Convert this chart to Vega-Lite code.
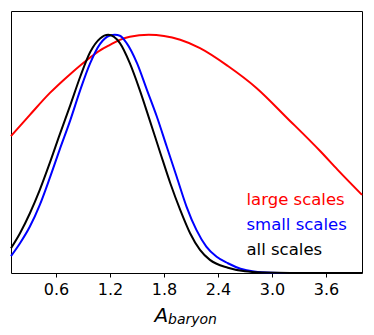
{
  "$schema": "https://vega.github.io/schema/vega-lite/v6.json",
  "width": 351,
  "height": 262,
  "padding": {"left": 7, "top": 11, "right": 12, "bottom": 5},
  "autosize": {"type": "pad"},
  "background": "white",
  "config": {
    "view": {"stroke": "black", "strokeWidth": 1},
    "font": "DejaVu Sans"
  },
  "title": {
    "text": "baryon",
    "orient": "bottom",
    "anchor": "start",
    "frame": "group",
    "dx": 157,
    "offset": -13,
    "fontSize": 14,
    "fontStyle": "italic",
    "fontWeight": "normal",
    "font": "DejaVu Sans",
    "color": "black"
  },
  "data": {
    "values": [
      {"s": "large scales", "x": 0.1, "y": 0.575},
      {"s": "large scales", "x": 0.31, "y": 0.664},
      {"s": "large scales", "x": 0.53, "y": 0.755},
      {"s": "large scales", "x": 0.76, "y": 0.836},
      {"s": "large scales", "x": 0.98, "y": 0.905},
      {"s": "large scales", "x": 1.09, "y": 0.935},
      {"s": "large scales", "x": 1.2, "y": 0.958},
      {"s": "large scales", "x": 1.31, "y": 0.979},
      {"s": "large scales", "x": 1.42, "y": 0.992},
      {"s": "large scales", "x": 1.63, "y": 1.0},
      {"s": "large scales", "x": 1.8, "y": 0.995},
      {"s": "large scales", "x": 1.98, "y": 0.979},
      {"s": "large scales", "x": 2.2, "y": 0.944},
      {"s": "large scales", "x": 2.51, "y": 0.869},
      {"s": "large scales", "x": 2.83, "y": 0.776},
      {"s": "large scales", "x": 3.17, "y": 0.65},
      {"s": "large scales", "x": 3.54, "y": 0.51},
      {"s": "large scales", "x": 3.73, "y": 0.433},
      {"s": "large scales", "x": 4.0, "y": 0.328},
      {"s": "small scales", "x": 0.1, "y": 0.071},
      {"s": "small scales", "x": 0.2, "y": 0.125},
      {"s": "small scales", "x": 0.31, "y": 0.195},
      {"s": "small scales", "x": 0.42, "y": 0.286},
      {"s": "small scales", "x": 0.53, "y": 0.398},
      {"s": "small scales", "x": 0.64, "y": 0.517},
      {"s": "small scales", "x": 0.76, "y": 0.643},
      {"s": "small scales", "x": 0.87, "y": 0.769},
      {"s": "small scales", "x": 0.98, "y": 0.881},
      {"s": "small scales", "x": 1.09, "y": 0.962},
      {"s": "small scales", "x": 1.2, "y": 0.997},
      {"s": "small scales", "x": 1.255, "y": 1.0},
      {"s": "small scales", "x": 1.31, "y": 0.996},
      {"s": "small scales", "x": 1.385, "y": 0.965},
      {"s": "small scales", "x": 1.5, "y": 0.881},
      {"s": "small scales", "x": 1.61, "y": 0.769},
      {"s": "small scales", "x": 1.72, "y": 0.657},
      {"s": "small scales", "x": 1.83, "y": 0.531},
      {"s": "small scales", "x": 1.94, "y": 0.405},
      {"s": "small scales", "x": 2.05, "y": 0.279},
      {"s": "small scales", "x": 2.16, "y": 0.181},
      {"s": "small scales", "x": 2.27, "y": 0.111},
      {"s": "small scales", "x": 2.385, "y": 0.068},
      {"s": "small scales", "x": 2.51, "y": 0.041},
      {"s": "small scales", "x": 2.65, "y": 0.018},
      {"s": "small scales", "x": 2.8, "y": 0.006},
      {"s": "small scales", "x": 3.0, "y": 0.001},
      {"s": "small scales", "x": 3.2, "y": 0.0},
      {"s": "small scales", "x": 4.0, "y": 0.0},
      {"s": "all scales", "x": 0.1, "y": 0.104},
      {"s": "all scales", "x": 0.2, "y": 0.167},
      {"s": "all scales", "x": 0.31, "y": 0.251},
      {"s": "all scales", "x": 0.42, "y": 0.349},
      {"s": "all scales", "x": 0.53, "y": 0.461},
      {"s": "all scales", "x": 0.64, "y": 0.58},
      {"s": "all scales", "x": 0.76, "y": 0.706},
      {"s": "all scales", "x": 0.87, "y": 0.825},
      {"s": "all scales", "x": 0.98, "y": 0.928},
      {"s": "all scales", "x": 1.09, "y": 0.985},
      {"s": "all scales", "x": 1.18, "y": 1.0},
      {"s": "all scales", "x": 1.31, "y": 0.965},
      {"s": "all scales", "x": 1.42, "y": 0.881},
      {"s": "all scales", "x": 1.53, "y": 0.769},
      {"s": "all scales", "x": 1.64, "y": 0.643},
      {"s": "all scales", "x": 1.76, "y": 0.503},
      {"s": "all scales", "x": 1.87, "y": 0.377},
      {"s": "all scales", "x": 1.98, "y": 0.265},
      {"s": "all scales", "x": 2.09, "y": 0.167},
      {"s": "all scales", "x": 2.2, "y": 0.097},
      {"s": "all scales", "x": 2.31, "y": 0.055},
      {"s": "all scales", "x": 2.51, "y": 0.022},
      {"s": "all scales", "x": 2.7, "y": 0.007},
      {"s": "all scales", "x": 2.9, "y": 0.002},
      {"s": "all scales", "x": 3.2, "y": 0.0},
      {"s": "all scales", "x": 4.0, "y": 0.0}
    ]
  },
  "encoding": {
    "x": {
      "field": "x",
      "type": "quantitative",
      "scale": {"domain": [0.1, 4.0], "nice": false, "zero": false},
      "axis": {
        "values": [0.6, 1.2, 1.8, 2.4, 3.0, 3.6],
        "format": ".1f",
        "grid": false,
        "domain": false,
        "ticks": true,
        "tickSize": 4,
        "tickColor": "black",
        "tickWidth": 1,
        "labelFontSize": 16,
        "labelFont": "DejaVu Sans",
        "labelColor": "black",
        "labelPadding": 4,
        "labelFlush": false,
        "labelOverlap": false,
        "title": "A",
        "titleFont": "DejaVu Sans",
        "titleFontSize": 20,
        "titleFontStyle": "italic",
        "titleFontWeight": "normal",
        "titleColor": "black",
        "titleAlign": "left",
        "titleBaseline": "alphabetic",
        "titleX": 143,
        "titleY": 48.7
      }
    },
    "y": {
      "field": "y",
      "type": "quantitative",
      "scale": {"domain": [0, 1.1], "nice": false},
      "axis": null
    },
    "color": {
      "field": "s",
      "type": "nominal",
      "scale": {
        "domain": ["large scales", "small scales", "all scales"],
        "range": ["#ff0000", "#0000ff", "#000000"]
      },
      "legend": {
        "orient": "none",
        "legendX": 219,
        "legendY": 181,
        "title": null,
        "padding": 0,
        "symbolSize": 0,
        "symbolStrokeWidth": 0,
        "symbolOpacity": 0,
        "labelOffset": 0,
        "labelFont": "DejaVu Sans",
        "labelFontSize": 16.5,
        "labelLimit": 300,
        "rowPadding": 8,
        "labelColor": {"expr": "datum.label == 'large scales' ? '#ff0000' : datum.label == 'small scales' ? '#0000ff' : '#000000'"}
      }
    }
  },
  "layer": [
    {
      "transform": [{"filter": "datum.s == 'large scales'"}],
      "mark": {"type": "line", "strokeWidth": 2, "interpolate": "monotone"}
    },
    {
      "transform": [{"filter": "datum.s == 'small scales'"}],
      "mark": {"type": "line", "strokeWidth": 2, "interpolate": "monotone"}
    },
    {
      "transform": [{"filter": "datum.s == 'all scales'"}],
      "mark": {"type": "line", "strokeWidth": 2, "interpolate": "monotone"}
    }
  ]
}
